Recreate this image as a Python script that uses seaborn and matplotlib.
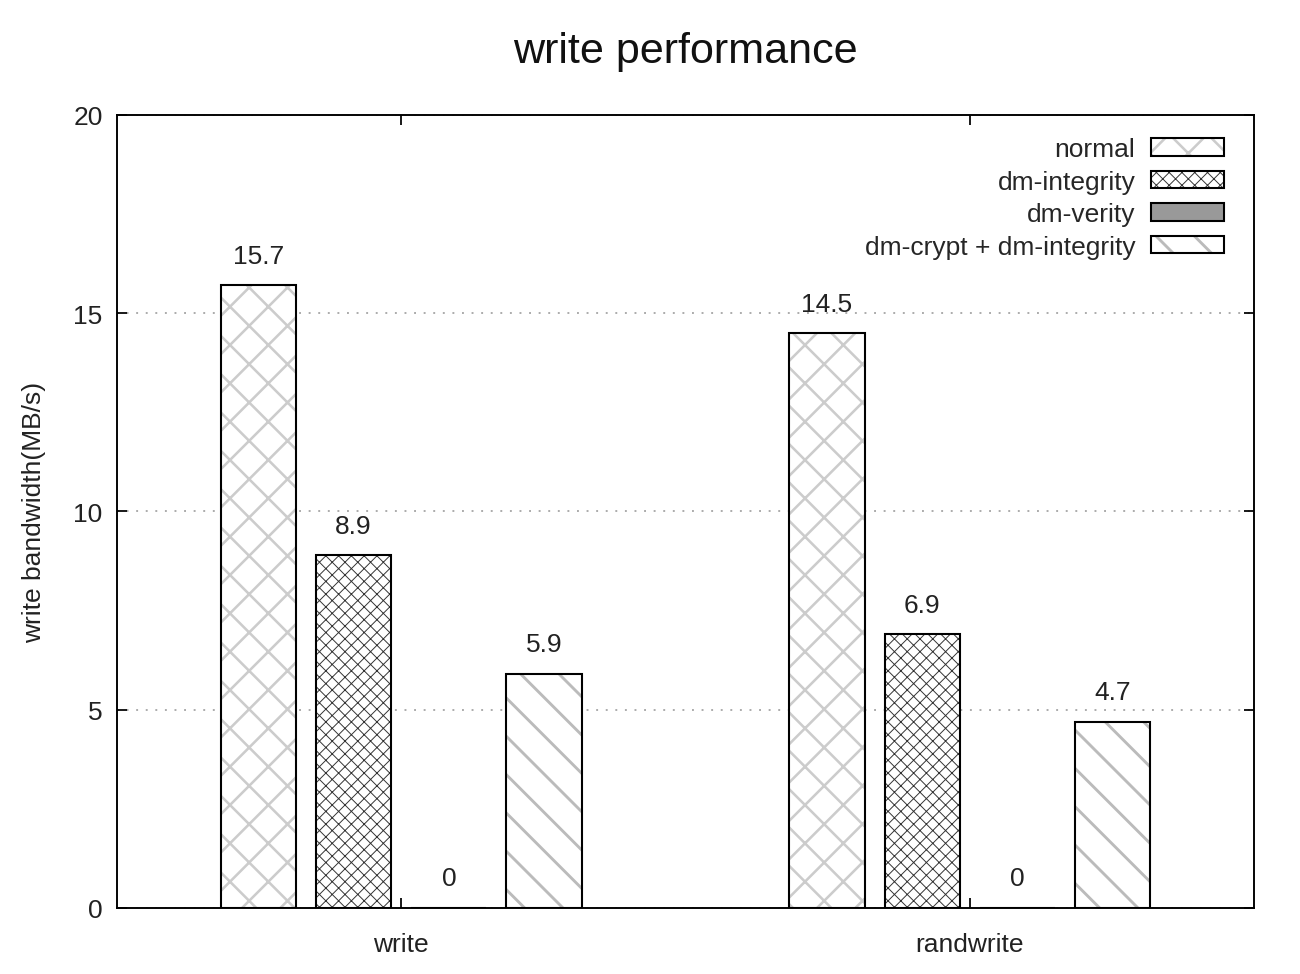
import matplotlib
matplotlib.use("Agg")
import matplotlib.pyplot as plt
import matplotlib.colors as mcolors
import seaborn as sns
import pandas as pd

# ---- data ----
tests = ["write", "randwrite"]
setups = ["normal", "dm-integrity", "dm-verity", "dm-crypt + dm-integrity"]
normal = [15.7, 14.5]
dm_integrity = [8.9, 6.9]
dm_verity = [0, 0]
dm_crypt_integrity = [5.9, 4.7]
title = "write performance"
ylabel = "write bandwidth(MB/s)"
yticks = [0, 5, 10, 15, 20]

series = [normal, dm_integrity, dm_verity, dm_crypt_integrity]
rows = []
for s, vals in zip(setups, series):
    for t, v in zip(tests, vals):
        rows.append({"test": t, "setup": s, "value": v})
df = pd.DataFrame(rows)

# ---- style ----
sns.set_theme(style="white")
plt.rcParams["font.family"] = ["Liberation Sans", "DejaVu Sans"]
plt.rcParams["hatch.linewidth"] = 1.3

DPI = 115
fig = plt.figure(figsize=(1300 / DPI, 975 / DPI), dpi=DPI)
ax = fig.add_axes([117 / 1300, 1 - 909 / 975, (1254 - 117) / 1300, (909 - 116) / 975])

palette = {"normal": "white", "dm-integrity": "white",
           "dm-verity": "#999999", "dm-crypt + dm-integrity": "white"}
sns.barplot(data=df, x="test", y="value", hue="setup", order=tests,
            hue_order=setups, palette=palette, width=0.67, gap=0.21,
            errorbar=None, edgecolor="black", linewidth=1.3, saturation=1,
            legend=False, ax=ax)

hatch_style = {
    "normal": ("x", "#cccccc", 1.6),
    "dm-integrity": ("xxx", "#333333", 0.6),
    "dm-verity": ("", "black", 1.0),
    "dm-crypt + dm-integrity": ("\\", "#bbbbbb", 1.8),
}


def style_patch(p, name):
    h, c, lw = hatch_style[name]
    if h:
        p.set_hatch(h)
    rgba = mcolors.to_rgba(c)
    if hasattr(p, "set_hatchcolor"):
        try:
            p.set_hatchcolor(c)
        except Exception:
            p._hatch_color = rgba
    else:
        p._hatch_color = rgba
    if hasattr(p, "set_hatch_linewidth"):
        try:
            p.set_hatch_linewidth(lw)
        except Exception:
            pass
    else:
        p._hatch_linewidth = lw


for cont, name in zip(ax.containers, setups):
    for p in cont.patches:
        style_patch(p, name)
    ax.bar_label(cont, labels=[f"{v:g}" for v in cont.datavalues],
                 padding=11, fontsize=16.5, color="#222222")

leg = ax.legend(handles=list(ax.containers), labels=setups, loc="upper right",
                bbox_to_anchor=(1.0, 1.010), frameon=False, markerfirst=False,
                fontsize=16.5, handlelength=2.75, handleheight=0.65,
                handletextpad=0.6, labelspacing=0.32, borderaxespad=0.85,
                borderpad=0.3)
for lh, name in zip(leg.legend_handles, setups):
    style_patch(lh, name)

ax.set_ylim(0, 20)
ax.set_xlim(-0.5, 1.5)
ax.set_yticks(yticks)
ax.set_xlabel("")
ax.set_ylabel(ylabel, fontsize=16.5, color="#222222", labelpad=17)
ax.set_title(title, fontsize=27, color="#111111", pad=33)

ax.yaxis.grid(True, linestyle=(0, (1, 4)), color="#aaaaaa", linewidth=1.2)
ax.set_axisbelow(True)
for sp in ax.spines.values():
    sp.set_visible(True)
    sp.set_color("black")
    sp.set_linewidth(1.2)

ax.tick_params(axis="both", direction="in", length=6, width=1.1,
               top=True, right=True, bottom=True, left=True,
               labelsize=16.5, labelcolor="#222222", color="black")
ax.tick_params(axis="x", pad=15)
ax.tick_params(axis="y", pad=9)

fig.savefig("out.png", dpi=DPI)
